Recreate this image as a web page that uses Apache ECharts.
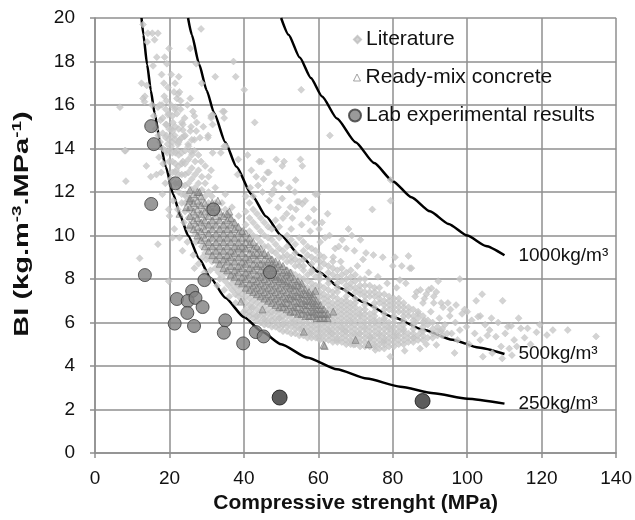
<!DOCTYPE html>
<html><head><meta charset="utf-8">
<script src="https://cdn.jsdelivr.net/npm/echarts@6/dist/echarts.min.js"></script>
<style>html,body{margin:0;padding:0;background:#fff}#c{width:635px;height:520px}</style>
</head><body><div id="c"></div>
<script>
const xTicks = [0, 20, 40, 60, 80, 100, 120, 140];
const yTicks = [0, 2, 4, 6, 8, 10, 12, 14, 16, 18, 20];
const curveNames = ['1000kg/m³', '500kg/m³', '250kg/m³'];
const c1000X = [50,52,55,58,61,65,70,75,80,85,90,95,100,105,110];
const c1000Y = [20,19.23,18.18,17.24,16.39,15.38,14.29,13.33,12.5,11.76,11.11,10.53,10,9.52,9.09];
const c500X = [25,26,28,30,32,35,38,42,46,50,55,60,66,72,80,88,96,103,110];
const c500Y = [20,19.23,17.86,16.67,15.63,14.29,13.16,11.9,10.87,10,9.09,8.33,7.58,6.94,6.25,5.68,5.21,4.85,4.55];
const c250X = [12.5,13,14,15,16,17.5,19,21,23,25,28,31,35,40,45,50,57,65,73,82,91,100,110];
const c250Y = [20,19.23,17.86,16.67,15.63,14.29,13.16,11.9,10.87,10,8.93,8.06,7.14,6.25,5.56,5,4.39,3.85,3.42,3.05,2.75,2.5,2.27];

const labX = [15.1,15.8,21.6,15.1,31.8,13.4,47.0,29.4,26.1,22.0,24.9,27.0,28.9,24.8,21.4,26.6,35.0,34.6,39.8,43.2,45.3];
const labY = [15.03,14.2,12.4,11.45,11.2,8.18,8.31,7.95,7.45,7.08,6.99,7.13,6.71,6.44,5.95,5.84,6.10,5.53,5.04,5.56,5.36];
const labDarkX = [49.6, 88.0];
const labDarkY = [2.55, 2.39];

// scattered literature points
const literature = [
[12.9,19.7],[14.2,19.3],[15.4,19.3],[16.9,19.3],[28.5,19.5],[25.6,18.6],[18.7,18.2],[19.3,17.9],[15.6,17.8],[27.2,17.9],[37.2,18.0],[32.3,17.3],[37.8,17.3],[40.1,16.7],[55.4,16.7],[12.5,17.0],[13.4,16.4],[6.7,15.9],[42.9,15.2],[63.1,14.6],[8.2,13.9],[8.3,12.5],[15.0,12.7],[20.5,17.4],[21.5,17.0],[22.5,17.3],[18.5,17.0],[22.0,16.3],[22.7,16.6],[28.7,17.0],[25.6,16.3],[19.2,16.2],[16.9,15.9],[18.0,16.0],[21.4,15.8],[23.0,15.8],[19.6,15.55],[31.6,15.55],[34.7,15.7],[34.7,15.4],[31.2,15.4],[19.2,15.1],[20.5,14.9],[21.4,14.6],[23.6,15.1],[25.8,15.0],[27.2,14.8],[30.4,14.6],[19.2,14.6],[20.5,14.55],[24.0,14.55],[26.7,14.4],[30.3,14.5],[31.6,15.1],[8.0,13.9],[20.5,14.1],[22.3,14.2],[25.0,14.2],[26.7,13.9],[22.0,13.9],[34.7,14.1],[33.8,13.8],[14.0,18.9],[16.0,19.0],[13.9,16.9],[15.3,16.0],
[12.9,16.3],[13.3,16.15],[17.4,16.0],[22.3,16.5],[26.7,15.5],[31.2,15.5],[34.3,15.7],[20.9,15.2],[23.6,14.85],[22.7,14.4],[31.6,13.8],[35.2,14.1],[25.8,13.85],[28.5,13.4],[31.2,13.0],[23.6,13.4],[21.8,13.0],[16.5,12.8],[13.8,13.2],[18.3,13.3],
[17.0,14.6],[17.6,15.3],[18.6,16.4],[19.6,16.8],[20.4,16.0],[21.2,16.6],[22.0,15.6],[23.0,16.2],[24.1,15.4],[24.8,16.0],[25.6,14.8],[26.3,15.7],[27.3,15.2],[28.2,14.5],[29.1,15.0],[16.3,14.9],[15.8,15.5],[17.9,17.4],[19.9,18.6],[16.6,18.2],
[17.2,13.6],[17.8,12.9],[18.9,12.4],[19.4,13.8],[19.8,11.2],[20.0,10.9],[20.3,12.6],[19.5,14.2],[18.1,11.9],[17.5,14.3],[16.9,9.6],[12.0,8.95],[19.8,7.9],[21.3,10.3],[20.8,9.9],[21.0,11.6],[22.7,9.9],[23.5,9.3],[24.8,9.7],[26.4,9.1],[26.7,8.5],[27.8,8.7],[29.4,8.3],[30.7,8.0],[32.8,7.7],[34.7,7.5],[36.1,7.2],[37.8,6.9],[40.0,6.5],[42.0,6.7],[43.5,6.3],[45.6,6.1],[49.5,6.2],[50.5,5.9],[53.4,6.0],[55.4,5.7],[57.6,5.5],[60.0,5.3],[63.6,5.5],[65.0,5.2],[67.3,5.6],[69.0,5.1],[69.5,4.98],[71.0,5.5],[74.0,5.3],[75.3,4.74],[77.6,5.1],[79.3,4.43],[80.8,5.4],[83.2,4.7],[85.6,5.3],[87.3,4.8],[89.0,5.0],[91.7,4.97],[96.6,4.6],[97.4,5.2],[22.2,11.2],[23.9,10.6],[25.3,10.3],[27.1,9.7],[28.9,9.0],[31.0,8.4],[33.5,8.0],[24.4,11.8],[29.9,8.9],
[38.3,12.8],[38.5,13.5],[41.0,13.7],[44.1,13.4],[46.3,12.9],[48.7,13.5],[50.8,13.4],[50.3,13.2],[53.7,12.0],[53.9,12.55],[54.3,11.55],[55.2,13.5],[55.7,13.2],[54.8,11.55],[55.7,11.45],[46.7,12.9],[44.7,13.4],[45.0,12.0],[47.5,11.9],[48.3,12.4],[43.3,12.7],[41.7,12.2],[42.5,11.8],[50.3,11.7],[52.5,11.3],[57.3,10.8],[58.8,11.2],[59.2,11.9],[59.7,11.9],[61.0,10.6],[60.2,10.3],[63.0,10.0],[64.5,9.4],[65.5,9.5],[66.4,9.8],[68.1,10.3],[69.0,10.0],[69.7,9.3],[71.3,9.8],[72.8,9.2],[74.5,11.2],[74.8,9.1],[77.3,9.0],[79.4,11.6],[79.4,12.55],[80.0,8.6],[80.6,9.0],[81.9,7.95],[82.4,8.6],[84.2,9.06],[84.6,8.5],[85.0,8.5],[86.4,7.4],[87.4,7.5],[89.0,7.3],[89.6,7.5],[90.4,7.57],[91.7,7.4],[92.2,7.9],[94.8,6.9],[98.0,8.0],[99.3,6.6],[102.4,7.0],[104.0,7.3],[109.5,7.0],
[42.0,13.0],[43.8,12.3],[45.3,12.6],[46.8,11.6],[48.0,12.1],[49.2,11.3],[50.0,12.4],[51.5,11.0],[52.2,12.2],[53.0,10.8],[54.0,11.2],[55.5,10.5],[56.5,11.6],[57.8,10.2],[59.0,10.6],[60.5,9.7],[61.8,9.9],[62.5,11.0],[64.0,9.0],[66.0,8.8],[67.5,9.4],[70.5,8.6],[72.0,8.9],[73.5,8.3],[76.0,8.1],[78.5,7.8],[81.0,7.6],[83.5,7.8],[86.0,7.2],[88.5,7.1],[91.0,7.2],[93.0,6.9],[95.5,6.6],[97.0,6.8],[100.0,6.5],[103.5,6.3],[106.5,6.2],
[98.0,5.65],[98.6,6.4],[99.8,5.8],[100.5,5.0],[101.2,6.1],[102.0,5.5],[102.9,6.27],[103.5,5.2],[104.2,4.43],[104.8,5.9],[105.4,5.4],[106.0,5.65],[106.7,4.6],[107.7,5.35],[108.3,6.0],[109.1,4.9],[109.4,4.35],[110.2,5.5],[110.9,5.8],[111.3,4.8],[111.8,5.84],[112.6,5.2],[113.3,4.9],[114.4,5.73],[115.4,5.3],[116.2,5.73],[117.0,5.0],[118.6,5.55],[119.5,5.9],[121.4,5.42],[123.0,5.65],[127.0,5.65],[134.6,5.36],[113.8,6.2],[112.0,4.5],[95.3,6.3],[95.8,5.5],[96.8,6.0],[93.0,5.6],[93.5,6.7],[94.0,5.9],[92.5,6.2],[91.0,6.9],[90.2,6.5],[88.1,6.9],[88.5,6.1],[86.0,6.0],[86.8,6.4],[87.7,5.6]
];

// dense literature cloud, read column by column
const litColsX = [18.2,19.0,19.9,20.8,21.6,22.5,23.3,24.2,25.1,26.0,26.9,27.8,28.7,29.6,30.5,31.4,32.3,33.2,34.1,35.0,35.9,36.8,37.7,38.6,39.5,40.5,41.5,42.5,43.5,44.5,45.5,46.5,47.5,48.5,49.5,50.5,51.6,52.7,53.8,54.9,56.0,57.1,58.2,59.3,60.4,61.5,62.7,63.9,65.1,66.3,67.5,68.7,69.9,71.2,72.5,73.8,75.1,76.4,77.7,79.0,80.3,81.6,82.9,84.2,85.5,86.8,88.1,89.4,90.7,92.0,93.3,94.6];
const litColsY = [
[14.0,14.7,15.4],
[13.9,14.5,15.1,15.8],
[13.4,13.9,14.4,14.9,15.6],
[12.9,13.4,13.8,14.3,14.8,15.5],
[12.4,12.9,13.3,13.8,14.4,15.0,15.9],
[12.0,12.4,12.8,13.2,13.7,14.3,14.9],
[11.5,11.9,12.3,12.8,13.3,13.8,14.5,15.2],
[11.1,11.5,11.9,12.3,12.8,13.3,13.9,14.6],
[10.8,11.2,11.6,11.9,12.4,12.9,13.5,14.1],
[10.4,10.8,11.2,11.6,12.1,12.6,13.1,13.7,14.4],
[10.1,10.5,10.9,11.3,11.7,12.2,12.8,13.4],
[9.8,10.2,10.6,10.9,11.4,11.9,12.4,13.0,13.7],
[9.5,9.9,10.3,10.6,11.1,11.6,12.1,12.7],
[9.2,9.6,10.0,10.4,10.8,11.3,11.8,12.4,13.2],
[9.0,9.4,9.7,10.1,10.5,11.0,11.5,12.0,12.7],
[8.8,9.1,9.5,9.9,10.3,10.7,11.2,11.8],
[8.5,8.9,9.3,9.6,10.0,10.5,11.0,11.5,12.2],
[8.3,8.7,9.1,9.4,9.8,10.2,10.7,11.2],
[8.1,8.5,8.9,9.2,9.6,10.0,10.4,10.9,11.5],
[7.9,8.3,8.7,9.0,9.4,9.8,10.2,10.6,11.2,11.9],
[7.7,8.2,8.5,8.9,9.2,9.6,10.0,10.4,10.9],
[7.5,7.8,8.0,8.4,8.7,9.0,9.4,9.8,10.2,10.7,11.3],
[7.3,7.6,7.9,8.2,8.5,8.9,9.2,9.6,10.0,10.5],
[7.2,7.4,7.7,8.0,8.4,8.7,9.0,9.4,9.8,10.3,10.9],
[7.0,7.3,7.6,7.9,8.2,8.5,8.9,9.2,9.6,10.1],
[6.4,6.6,6.9,7.2,7.5,7.8,8.1,8.4,8.7,9.0,9.4,9.9,10.5,11.1,11.8],
[6.3,6.5,6.8,7.1,7.4,7.7,8.0,8.3,8.6,8.9,9.3,9.7,10.2,10.8,11.5],
[6.2,6.4,6.7,7.0,7.3,7.6,7.8,8.1,8.4,8.8,9.1,9.5,10.0,10.6,11.2],
[6.1,6.3,6.6,6.9,7.2,7.4,7.7,8.0,8.3,8.6,9.0,9.4,9.9,10.4,11.0],
[6.0,6.3,6.5,6.8,7.1,7.3,7.6,7.9,8.2,8.5,8.8,9.2,9.7,10.2,10.8],
[5.9,6.2,6.4,6.7,7.0,7.2,7.5,7.8,8.1,8.4,8.7,9.1,9.5,10.0,10.6],
[5.9,6.1,6.4,6.6,6.9,7.1,7.4,7.7,8.0,8.3,8.6,9.0,9.5,9.9,10.4],
[5.8,6.1,6.3,6.5,6.8,7.0,7.3,7.6,7.9,8.2,8.5,8.9,9.3,9.8,10.3],
[5.8,6.0,6.2,6.5,6.7,7.0,7.2,7.5,7.8,8.1,8.4,8.7,9.2,9.6,10.7],
[5.7,5.9,6.2,6.4,6.6,6.9,7.1,7.4,7.7,8.0,8.3,8.6,9.0,9.4,9.9,10.4],
[5.6,5.9,6.1,6.3,6.6,6.8,7.1,7.3,7.6,7.9,8.2,8.5,9.0,9.3,10.8],
[5.6,5.8,6.0,6.3,6.5,6.7,7.0,7.2,7.5,7.8,8.1,8.4,8.8,9.1,9.5,10.0],
[5.5,5.8,6.0,6.2,6.4,6.7,6.9,7.2,7.4,7.7,8.0,8.3,8.8,9.0,9.8,10.3],
[5.5,5.7,5.9,6.1,6.4,6.6,6.8,7.1,7.3,7.6,7.9,8.2,8.6,8.9,9.2,9.6],
[5.4,5.7,5.9,6.1,6.3,6.5,6.8,7.0,7.3,7.5,7.8,8.1,8.6,8.8,9.9],
[5.4,5.6,5.8,6.0,6.3,6.5,6.7,6.9,7.2,7.4,7.7,8.0,8.4,8.6,8.9,9.3,9.7],
[5.3,5.6,5.8,6.0,6.2,6.4,6.6,6.9,7.1,7.4,7.6,7.9,8.2,9.1,9.5],
[5.3,5.5,5.7,5.9,6.2,6.4,6.6,6.8,7.1,7.3,7.6,7.8,8.3,8.4,8.7,9.0,9.4],
[5.3,5.5,5.7,5.9,6.1,6.3,6.5,6.8,7.0,7.2,7.5,7.7,8.1,8.9,9.3],
[5.2,5.4,5.6,5.8,6.0,6.3,6.5,6.7,6.9,7.2,7.4,7.7,8.0,8.2,8.5,8.8,9.1],
[5.2,5.4,5.6,5.8,6.0,6.2,6.4,6.6,6.9,7.1,7.3,7.6,8.7,9.0],
[5.2,5.4,5.6,5.7,5.9,6.1,6.3,6.6,6.8,7.0,7.2,7.5,7.8,8.0,8.3,8.6],
[5.1,5.3,5.5,5.7,5.9,6.1,6.3,6.5,6.7,6.9,7.2,7.4,8.2,8.5,8.8],
[5.1,5.3,5.5,5.7,5.9,6.1,6.3,6.5,6.7,6.9,7.1,7.4,7.6,7.8,8.1,8.4],
[5.1,5.3,5.5,5.7,5.8,6.0,6.2,6.4,6.6,6.8,7.0,7.9,8.2,8.5],
[5.0,5.2,5.4,5.6,5.8,6.0,6.2,6.4,6.6,6.8,7.0,7.2,7.5,7.7,8.0,8.3],
[5.0,5.2,5.4,5.6,5.8,6.0,6.1,6.3,6.5,6.7,6.9,7.6,7.8,8.1,8.4],
[5.0,5.2,5.4,5.5,5.7,5.9,6.1,6.3,6.5,6.7,6.9,7.1,7.4,7.6,7.9,8.2],
[4.9,5.1,5.3,5.5,5.7,5.9,6.1,6.3,6.4,6.6,7.3,7.5,7.7,8.0],
[4.9,5.1,5.3,5.5,5.7,5.8,6.0,6.2,6.4,6.6,6.8,7.0,7.2,7.4,7.7,8.0],
[4.9,5.1,5.3,5.4,5.6,5.8,6.0,6.2,6.4,7.2,7.4,7.7],
[4.9,5.0,5.2,5.4,5.6,5.8,6.0,6.1,6.3,6.5,6.7,6.9,7.2,7.4,7.6],
[4.8,5.0,5.2,5.4,5.5,5.7,5.9,6.1,6.9,7.1,7.3,7.6],
[4.8,5.0,5.2,5.3,5.5,5.7,5.9,6.1,6.2,6.4,6.6,6.8,7.0,7.3],
[4.9,5.1,5.3,5.5,5.7,5.8,6.0,6.6,6.8,7.0,7.2],
[4.9,5.1,5.3,5.4,5.6,5.8,6.0,6.2,6.3,6.5,6.7,6.9,7.1],
[5.0,5.2,5.4,5.6,5.8,6.5,6.7,6.9,7.1],
[5.0,5.2,5.4,5.6,5.7,5.9,6.1,6.3,6.5,6.7,6.9],
[5.1,5.3,5.5,6.3,6.5,6.7],
[5.1,5.3,5.5,5.7,5.9,6.1,6.3,6.6],
[5.2,5.4,6.2,6.5],
[5.2,5.4,5.6,5.8,6.0,6.3],
[5.3,5.9,6.1],
[5.3,5.5,5.7,6.0],
[5.4,5.6,5.8],
[5.4,5.7],
[5.5]
];

// ready-mix concrete: scattered points plus the dense band, read column by column
const readyMix = [
[24.5,11.3],[25.4,11.6],[28.0,12.0],[36.1,11.1],[39.2,6.96],[45.0,6.6],[56.1,5.58],[59.2,7.46],[61.4,4.97],[61.7,4.92],[70.0,5.2],[73.5,5.0],[22.7,11.0],[33.0,11.6],[64.0,6.5]
];
const rmColsX = [25.5,26.5,27.5,28.5,29.5,30.5,31.5,32.5,33.5,34.5,35.5,36.5,37.5,38.5,39.5,40.5,41.5,42.5,43.5,44.5,45.5,46.5,47.5,48.5,49.5,50.5,51.5,52.5,53.5,54.5,55.5,56.5,57.5,58.5,59.5,60.5,61.5,62.5];
const rmColsY = [
[10.5,10.9,11.3,11.7,12.1],
[10.3,10.7,11.1,11.5,11.9],
[10.0,10.4,10.8,11.2,11.6,12.0],
[9.8,10.2,10.6,11.0,11.4,11.8],
[9.5,9.9,10.3,10.7,11.1,11.5],
[9.3,9.7,10.1,10.5,10.9,11.3],
[9.1,9.5,9.9,10.3,10.7,11.1,11.5],
[8.9,9.3,9.7,10.1,10.5,10.9,11.3],
[8.7,9.1,9.5,9.9,10.3,10.7,11.1],
[8.5,8.9,9.3,9.7,10.1,10.5,10.9],
[8.4,8.8,9.1,9.5,9.9,10.3,10.7,11.0],
[8.2,8.6,9.0,9.3,9.7,10.1,10.5,10.8],
[8.1,8.4,8.8,9.2,9.5,9.9,10.3,10.6],
[7.9,8.3,8.6,9.0,9.4,9.7,10.1,10.4],
[7.8,8.1,8.5,8.8,9.2,9.5,9.9,10.2],
[7.6,8.0,8.3,8.7,9.0,9.4,9.7,10.1],
[7.5,7.8,8.2,8.5,8.9,9.2,9.6,9.9],
[7.4,7.7,8.0,8.4,8.7,9.1,9.4,9.7],
[7.3,7.6,7.9,8.2,8.6,8.9,9.2,9.5],
[7.2,7.5,7.8,8.1,8.4,8.7,9.1,9.4],
[7.1,7.4,7.7,8.0,8.3,8.6,8.9,9.2],
[7.0,7.3,7.6,7.9,8.2,8.5,8.8,9.1],
[6.9,7.2,7.5,7.8,8.1,8.4,8.7,8.9],
[6.8,7.1,7.4,7.7,8.0,8.2,8.5,8.8],
[6.7,7.0,7.3,7.6,7.9,8.1,8.4,8.7],
[6.7,6.9,7.2,7.5,7.8,8.0,8.3,8.6],
[6.6,6.9,7.1,7.4,7.7,7.9,8.2,8.4],
[6.5,6.8,7.1,7.3,7.6,7.8,8.1,8.3],
[6.5,6.7,7.0,7.2,7.5,7.7,8.0],
[6.4,6.7,6.9,7.2,7.4,7.7,7.9],
[6.4,6.6,6.9,7.1,7.3,7.6,7.8],
[6.3,6.6,6.8,7.0,7.3,7.5],
[6.3,6.5,6.8,7.0,7.2,7.4],
[6.3,6.5,6.7,6.9,7.1,7.3],
[6.2,6.4,6.6,6.8,7.0],
[6.2,6.4,6.6,6.8],
[6.2,6.4,6.6],
[6.2,6.4]
];

const zip = (xs, ys) => xs.map((x, i) => [x, ys[i]]);
const fromCols = (xs, cols) => xs.flatMap((x, i) => cols[i].map(y => [x, y]));
const chart = echarts.init(document.getElementById('c'), null, {renderer: 'canvas'});
const FONT = 'Arial, "Liberation Sans", sans-serif';
const gridColor = '#8f8f8f';

function curve(name, xs, ys) {
  return {
    name: name, type: 'line', data: zip(xs, ys), z: 1,
    showSymbol: false, symbol: 'none', smooth: 0.2, smoothMonotone: 'x',
    lineStyle: {color: '#000', width: 2.5},
    endLabel: {show: true, formatter: name, distance: 14, fontFamily: FONT, fontSize: 19, color: '#111'},
    silent: true
  };
}

chart.setOption({
  animation: false,
  backgroundColor: '#fff',
  grid: {left: 95, right: 16, top: 18, bottom: 67},
  legend: [
    {data: ['Literature'], left: 353, top: 29, padding: 0, itemWidth: 7, itemHeight: 7, icon: 'diamond',
     textStyle: {fontFamily: FONT, fontSize: 21, color: '#111'}, selectedMode: false},
    {data: ['Ready-mix concrete'], left: 353, top: 67, padding: 0, itemWidth: 7, itemHeight: 7, icon: 'triangle',
     itemStyle: {color: '#ffffff', borderColor: '#8c8c8c', borderWidth: 1},
     textStyle: {fontFamily: FONT, fontSize: 21, color: '#111'}, selectedMode: false},
    {data: ['Lab experimental results'], left: 348, top: 105, padding: 0, itemWidth: 12, itemHeight: 12, icon: 'circle',
     textStyle: {fontFamily: FONT, fontSize: 21, color: '#111'}, selectedMode: false}
  ],
  xAxis: {
    type: 'value', min: xTicks[0], max: xTicks[xTicks.length - 1], interval: 20,
    name: 'Compressive strenght (MPa)', nameLocation: 'middle', nameGap: 36,
    nameTextStyle: {fontFamily: FONT, fontSize: 21, fontWeight: 'bold', color: '#111'},
    axisLine: {lineStyle: {color: gridColor, width: 1.5}},
    axisTick: {show: true, length: 5, lineStyle: {color: gridColor, width: 1.5}},
    axisLabel: {fontFamily: FONT, fontSize: 19, color: '#111', margin: 16},
    splitLine: {show: true, lineStyle: {color: gridColor, width: 1.5}}
  },
  yAxis: {
    type: 'value', min: yTicks[0], max: yTicks[yTicks.length - 1], interval: 2,
    axisLine: {show: true, lineStyle: {color: gridColor, width: 1.5}},
    axisTick: {show: true, length: 5, lineStyle: {color: gridColor, width: 1.5}},
    axisLabel: {fontFamily: FONT, fontSize: 19, color: '#111', margin: 20},
    splitLine: {show: true, lineStyle: {color: gridColor, width: 1.5}}
  },
  graphic: [{
    type: 'text', x: 22, y: 224, rotation: Math.PI / 2, scaleX: 1.45,
    style: {
      text: '{b|BI (kg.m}{s|-3}{b|.MPa}{s|-1}{b|)}',
      align: 'center', verticalAlign: 'middle',
      rich: {
        b: {fontFamily: FONT, fontSize: 20, fontWeight: 'bold', fill: '#111', lineHeight: 22},
        s: {fontFamily: FONT, fontSize: 13, fontWeight: 'bold', fill: '#111', verticalAlign: 'top', lineHeight: 22}
      }
    }
  }],
  series: [
    curve(curveNames[0], c1000X, c1000Y),
    curve(curveNames[1], c500X, c500Y),
    curve(curveNames[2], c250X, c250Y),
    {name: 'Literature', type: 'scatter', data: literature.concat(fromCols(litColsX, litColsY)), z: 2,
     symbol: 'diamond', symbolSize: 7, large: false,
     itemStyle: {color: '#c8c8c8', borderColor: '#bebebe', borderWidth: 0.5}},
    {name: 'Ready-mix concrete', type: 'scatter', data: readyMix.concat(fromCols(rmColsX, rmColsY)), z: 3,
     symbol: 'triangle', symbolSize: 7, large: false,
     itemStyle: {color: 'rgba(120,120,120,0.45)', borderColor: 'rgba(115,115,115,0.9)', borderWidth: 0.8}},
    {name: 'Lab experimental results', type: 'scatter', data: zip(labX, labY), z: 4, symbol: 'circle', symbolSize: 13,
     itemStyle: {color: '#7f7f7f', borderColor: '#3a3a3a', borderWidth: 1}},
    {name: 'Lab (dark)', type: 'scatter', data: zip(labDarkX, labDarkY), z: 4, symbol: 'circle', symbolSize: 15,
     itemStyle: {color: '#333333', borderColor: '#111', borderWidth: 1}}
  ]
});
</script></body></html>
